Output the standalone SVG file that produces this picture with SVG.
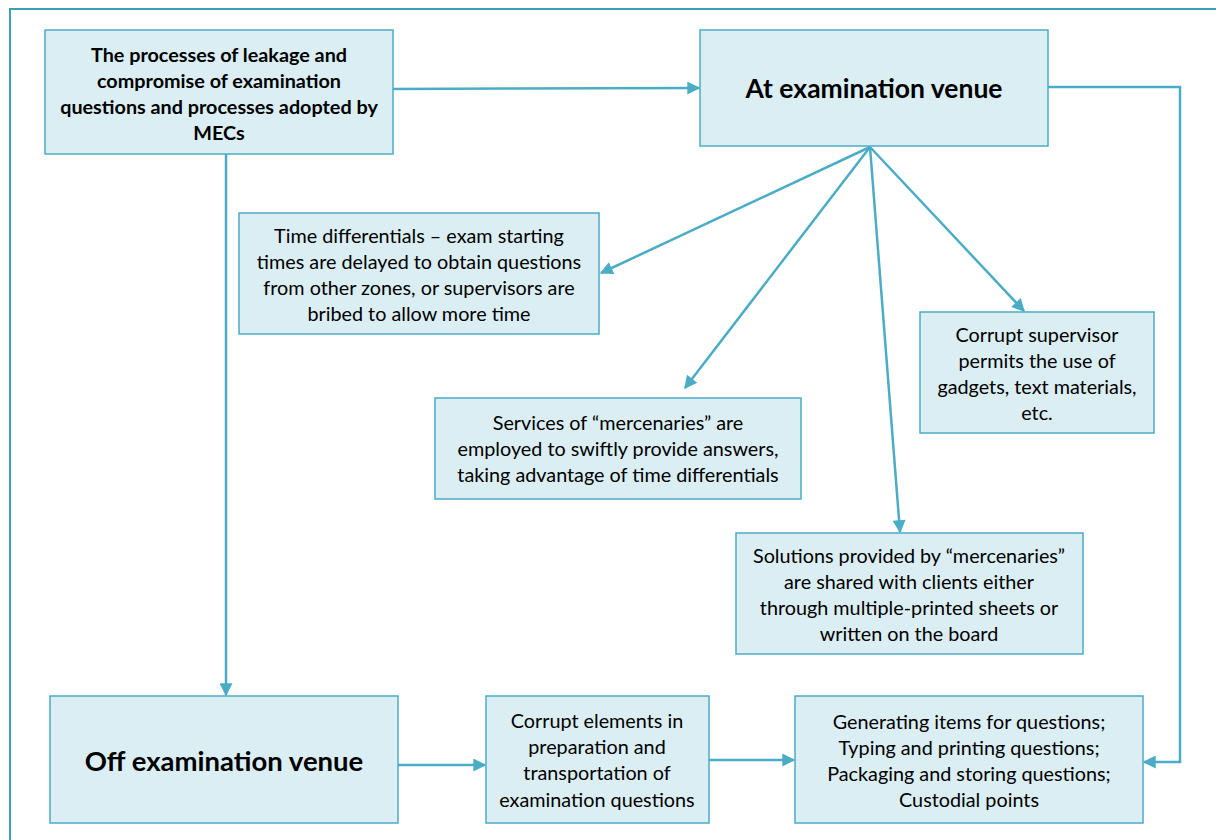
<svg xmlns="http://www.w3.org/2000/svg" width="1216" height="840" viewBox="0 0 1216 840">
<style>
.box{fill:#DAEEF3;stroke:#4BACC6;stroke-width:1.5}
.t{font-family:Lato,"Liberation Sans",sans-serif;font-size:19.8px;fill:#000;text-anchor:middle}
.b{font-weight:bold}
.big{font-size:26.5px;font-weight:bold}
.c{fill:none;stroke:#4BACC6;stroke-width:2.5}
</style>
<defs>
<marker id="ah" viewBox="0 0 10 10" refX="9" refY="5" markerWidth="16" markerHeight="13" markerUnits="userSpaceOnUse" orient="auto">
<path d="M0,0 L10,5 L0,10 z" fill="#4BACC6"/>
</marker>
</defs>
<rect x="10" y="9" width="1230" height="850" fill="none" stroke="#3E9EB2" stroke-width="2"/>
<g id="connectors">
<path class="c" d="M393,89 L699,88" marker-end="url(#ah)"/>
<path class="c" d="M226,154 L226,695" marker-end="url(#ah)"/>
<path class="c" d="M1048,87 L1180,87 L1180,762 L1144,762" marker-end="url(#ah)"/>
<path class="c" d="M398,765 L485,765" marker-end="url(#ah)"/>
<path class="c" d="M709,760 L794,760" marker-end="url(#ah)"/>
<path class="c" d="M870,147 L601,273" marker-end="url(#ah)"/>
<path class="c" d="M870,147 L685,388" marker-end="url(#ah)"/>
<path class="c" d="M870,147 L900,532" marker-end="url(#ah)"/>
<path class="c" d="M870,147 L1024,311" marker-end="url(#ah)"/>
</g>
<g id="n-root">
<rect class="box" x="45" y="30" width="348" height="124"/>
<text class="t b" x="219" y="62">The processes of leakage and</text>
<text class="t b" x="219" y="88">compromise of examination</text>
<text class="t b" x="219" y="114">questions and processes adopted by</text>
<text class="t b" x="219" y="140">MECs</text>
</g>
<g id="n-at">
<rect class="box" x="700" y="30" width="348" height="116"/>
<text class="t big" x="874" y="98">At examination venue</text>
</g>
<g id="n-time">
<rect class="box" x="239" y="213" width="360" height="121"/>
<text class="t" x="419" y="243">Time differentials – exam starting</text>
<text class="t" x="419" y="269">times are delayed to obtain questions</text>
<text class="t" x="419" y="295">from other zones, or supervisors are</text>
<text class="t" x="419" y="321">bribed to allow more time</text>
</g>
<g id="n-supervisor">
<rect class="box" x="920" y="312" width="234" height="121"/>
<text class="t" x="1037" y="342">Corrupt supervisor</text>
<text class="t" x="1037" y="368">permits the use of</text>
<text class="t" x="1037" y="394">gadgets, text materials,</text>
<text class="t" x="1037" y="420">etc.</text>
</g>
<g id="n-services">
<rect class="box" x="435" y="398" width="366" height="101"/>
<text class="t" x="618" y="430">Services of “mercenaries” are</text>
<text class="t" x="618" y="456">employed to swiftly provide answers,</text>
<text class="t" x="618" y="482">taking advantage of time differentials</text>
</g>
<g id="n-solutions">
<rect class="box" x="736" y="533" width="347" height="121"/>
<text class="t" x="909" y="563">Solutions provided by “mercenaries”</text>
<text class="t" x="909" y="589">are shared with clients either</text>
<text class="t" x="909" y="615">through multiple-printed sheets or</text>
<text class="t" x="909" y="641">written on the board</text>
</g>
<g id="n-off">
<rect class="box" x="50" y="696" width="348" height="127"/>
<text class="t big" x="224" y="771" style="font-size:27.5px">Off examination venue</text>
</g>
<g id="n-corrupt">
<rect class="box" x="486" y="696" width="223" height="127"/>
<text class="t" x="597" y="728">Corrupt elements in</text>
<text class="t" x="597" y="754">preparation and</text>
<text class="t" x="597" y="780">transportation of</text>
<text class="t" x="597" y="807">examination questions</text>
</g>
<g id="n-generating">
<rect class="box" x="795" y="696" width="348" height="127"/>
<text class="t" x="969" y="729">Generating items for questions;</text>
<text class="t" x="969" y="755">Typing and printing questions;</text>
<text class="t" x="969" y="781">Packaging and storing questions;</text>
<text class="t" x="969" y="807">Custodial points</text>
</g>
</svg>
